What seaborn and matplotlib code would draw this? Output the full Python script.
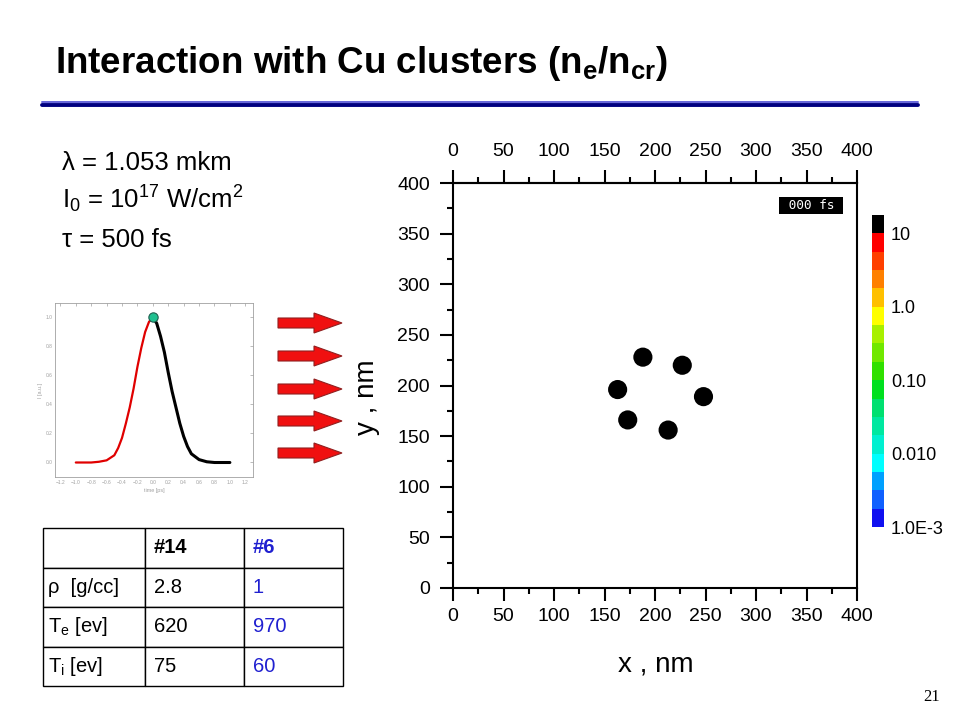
import numpy as np
import seaborn as sns
import matplotlib.pyplot as plt
from matplotlib.colors import ListedColormap, BoundaryNorm
from matplotlib.cm import ScalarMappable
from matplotlib.patches import FancyArrow
from matplotlib.ticker import MultipleLocator

# cluster centres at t = 0 (nm)
cluster_x = [188, 227, 163, 248, 173, 213]
cluster_y = [228, 220, 196, 189, 166, 156]

# laser pulse envelope, rising (red) and falling (black) parts
rise_t = [-1.0, -0.8, -0.7, -0.6, -0.5, -0.45, -0.4, -0.35, -0.3, -0.25, -0.2, -0.15, -0.1, -0.05, 0.0]
rise_i = [0.0, 0.0, 0.005, 0.015, 0.05, 0.10, 0.17, 0.27, 0.38, 0.51, 0.66, 0.79, 0.90, 0.97, 1.0]
fall_t = [0.0, 0.05, 0.1, 0.15, 0.2, 0.25, 0.3, 0.35, 0.4, 0.45, 0.5, 0.6, 0.7, 0.8, 1.0]
fall_i = [1.0, 0.96, 0.87, 0.76, 0.62, 0.49, 0.38, 0.27, 0.18, 0.11, 0.06, 0.02, 0.005, 0.0, 0.0]
peak_t = [0.0]
peak_i = [1.0]

# colour scale of n_e/n_cr, log10 band edges
level_edges = [-3.0, -2.75, -2.5, -2.25, -2.0, -1.75, -1.5, -1.25, -1.0,
               -0.75, -0.5, -0.25, 0.0, 0.25, 0.5, 0.75, 1.0, 1.25]
level_colors = ["#1010f0", "#1060ff", "#00a0ff", "#00ffff",
                "#00f0d0", "#00e8a0", "#00e070", "#00e020",
                "#30e000", "#70e800", "#a8f000", "#ffff00",
                "#ffc000", "#ff8000", "#ff4000", "#ff0000", "#000000"]
cbar_ticks = [-3, -2, -1, 0, 1]
cbar_labels = ["1.0E-3", "0.010", "0.10", "1.0", "10"]

params = ["λ = 1.053 mkm", "I$_0$ = 10$^{17}$ W/cm$^2$", "τ = 500 fs"]

table_cols = ["", "#14", "#6"]
table_rows = ["ρ  [g/cc]", "T$_e$ [ev]", "T$_i$ [ev]"]
case14 = ["2.8", "620", "75"]
case6 = ["1", "970", "60"]

BLUE = "#2020d0"

sns.set_theme(style="white")
plt.rcParams["font.family"] = ["Liberation Sans", "DejaVu Sans"]
plt.rcParams["mathtext.default"] = "regular"
plt.rcParams.update({"text.color": "black", "axes.labelcolor": "black",
                     "xtick.color": "black", "ytick.color": "black"})

W, H = 960, 720
fig = plt.figure(figsize=(9.6, 7.2), dpi=100)


def px_box(x0, y0, x1, y1):
    return [x0 / W, 1 - y1 / H, (x1 - x0) / W, (y1 - y0) / H]


# slide layer
bg = fig.add_axes([0, 0, 1, 1])
bg.set_xlim(0, W)
bg.set_ylim(H, 0)
bg.axis("off")
bg.text(55, 73, "Interaction with Cu clusters (n$_e$/n$_{cr}$)", fontsize=26.5,
        fontweight="bold", ha="left", va="baseline")
bg.plot([42, 918], [101.5, 101.5], color="#6464d8", lw=1.4)
bg.plot([42, 918], [105, 105], color="#000080", lw=2.8)
for k, s in enumerate(params):
    bg.text(62, 170 + 38.5 * k, s, fontsize=18.5, ha="left", va="baseline")
bg.text(932, 697, "21", fontsize=12, family="Liberation Serif", ha="center", va="center")
for yc in [323, 356, 389, 421, 453]:
    bg.add_patch(FancyArrow(278, yc, 36, 0, width=10, head_width=20, head_length=28,
                            length_includes_head=False, fc="#f01010", ec="#902020", lw=0.8))

# pulse inset
ax2 = fig.add_axes(px_box(55, 303, 253, 477))
sns.lineplot(x=rise_t, y=rise_i, color="#e00000", lw=1.6, ax=ax2)
sns.lineplot(x=fall_t, y=fall_i, color="black", lw=2.2, ax=ax2)
sns.scatterplot(x=peak_t, y=peak_i, s=45, color="#20c090", edgecolor="#206050",
                linewidth=0.8, ax=ax2, zorder=5, legend=False)
ax2.set_xlim(-1.27, 1.3)
ax2.set_ylim(-0.1, 1.1)
ax2.set_xticks(np.round(np.arange(-1.2, 1.21, 0.2), 1))
ax2.set_yticks(np.round(np.arange(0, 1.01, 0.2), 1))
ax2.tick_params(direction="in", length=2, width=0.5, colors="#a0a0a0", labelsize=3.5,
                top=True, right=True, pad=2)
ax2.set_xlabel("time [ps]", fontsize=4, color="#a0a0a0", labelpad=2)
ax2.set_ylabel("I [a.u.]", fontsize=4, color="#a0a0a0", labelpad=2)
for sp in ax2.spines.values():
    sp.set_color("#a0a0a0")
    sp.set_linewidth(0.6)

# density map
ax = fig.add_axes(px_box(453, 183, 857, 588))
sns.scatterplot(x=cluster_x, y=cluster_y, s=190, color="black", edgecolor="none",
                ax=ax, legend=False)
ax.set_xlim(0, 400)
ax.set_ylim(0, 400)
ax.xaxis.set_major_locator(MultipleLocator(50))
ax.yaxis.set_major_locator(MultipleLocator(50))
ax.xaxis.set_minor_locator(MultipleLocator(25))
ax.yaxis.set_minor_locator(MultipleLocator(25))
ax.tick_params(which="both", direction="out", width=1.5, colors="black",
               bottom=True, left=True, top=False, right=False, labelsize=14)
ax.tick_params(which="major", length=9.5)
ax.tick_params(which="minor", length=4)
ax.tick_params(axis="x", pad=5)
ax.tick_params(axis="y", pad=7)
for sp in ax.spines.values():
    sp.set_color("black")
    sp.set_linewidth(1.5)
sec = ax.secondary_xaxis("top")
sec.xaxis.set_major_locator(MultipleLocator(50))
sec.xaxis.set_minor_locator(MultipleLocator(25))
sec.tick_params(which="both", direction="out", width=1.5, colors="black", labelsize=14, pad=7)
sec.tick_params(which="major", length=9.5)
sec.tick_params(which="minor", length=4)
sec.spines["top"].set_linewidth(1.5)
ax.set_xlabel("x , nm", fontsize=20)
ax.set_ylabel("y , nm", fontsize=20)
ax.xaxis.set_label_coords(0.502, -0.158)
ax.yaxis.set_label_coords(-0.18, 0.47)
ax.text(354.5, 377.8, " 000 fs ", color="white", family="DejaVu Sans Mono", fontsize=9.2,
        ha="center", va="center",
        bbox=dict(boxstyle="square,pad=0.12", fc="black", ec="none"))

# colour bar
cax = fig.add_axes(px_box(872, 215, 884, 527))
cmap = ListedColormap(level_colors)
norm = BoundaryNorm(level_edges, cmap.N)
cb = fig.colorbar(ScalarMappable(norm=norm, cmap=cmap), cax=cax, ticks=cbar_ticks)
cb.outline.set_visible(False)
cb.ax.minorticks_off()
cb.ax.set_yticklabels(cbar_labels)
cb.ax.tick_params(which="both", length=0, pad=5, labelsize=13, left=False)

# parameter table
axt = fig.add_axes(px_box(43, 528, 343, 686))
axt.axis("off")
cells = [table_cols] + [[r, a, b] for r, a, b in zip(table_rows, case14, case6)]
tbl = axt.table(cellText=cells, bbox=[0, 0, 1, 1], cellLoc="left",
                colWidths=[102, 99, 99])
tbl.auto_set_font_size(False)
for (r, c), cell in tbl.get_celld().items():
    cell.set_edgecolor("black")
    cell.set_linewidth(1.0)
    cell.PAD = 0.05 if c == 0 else 0.09
    txt = cell.get_text()
    txt.set_fontsize(14.5)
    txt.set_color(BLUE if c == 2 else "black")
    if r == 0:
        txt.set_fontweight("bold")

fig.savefig("out.png", dpi=100)
